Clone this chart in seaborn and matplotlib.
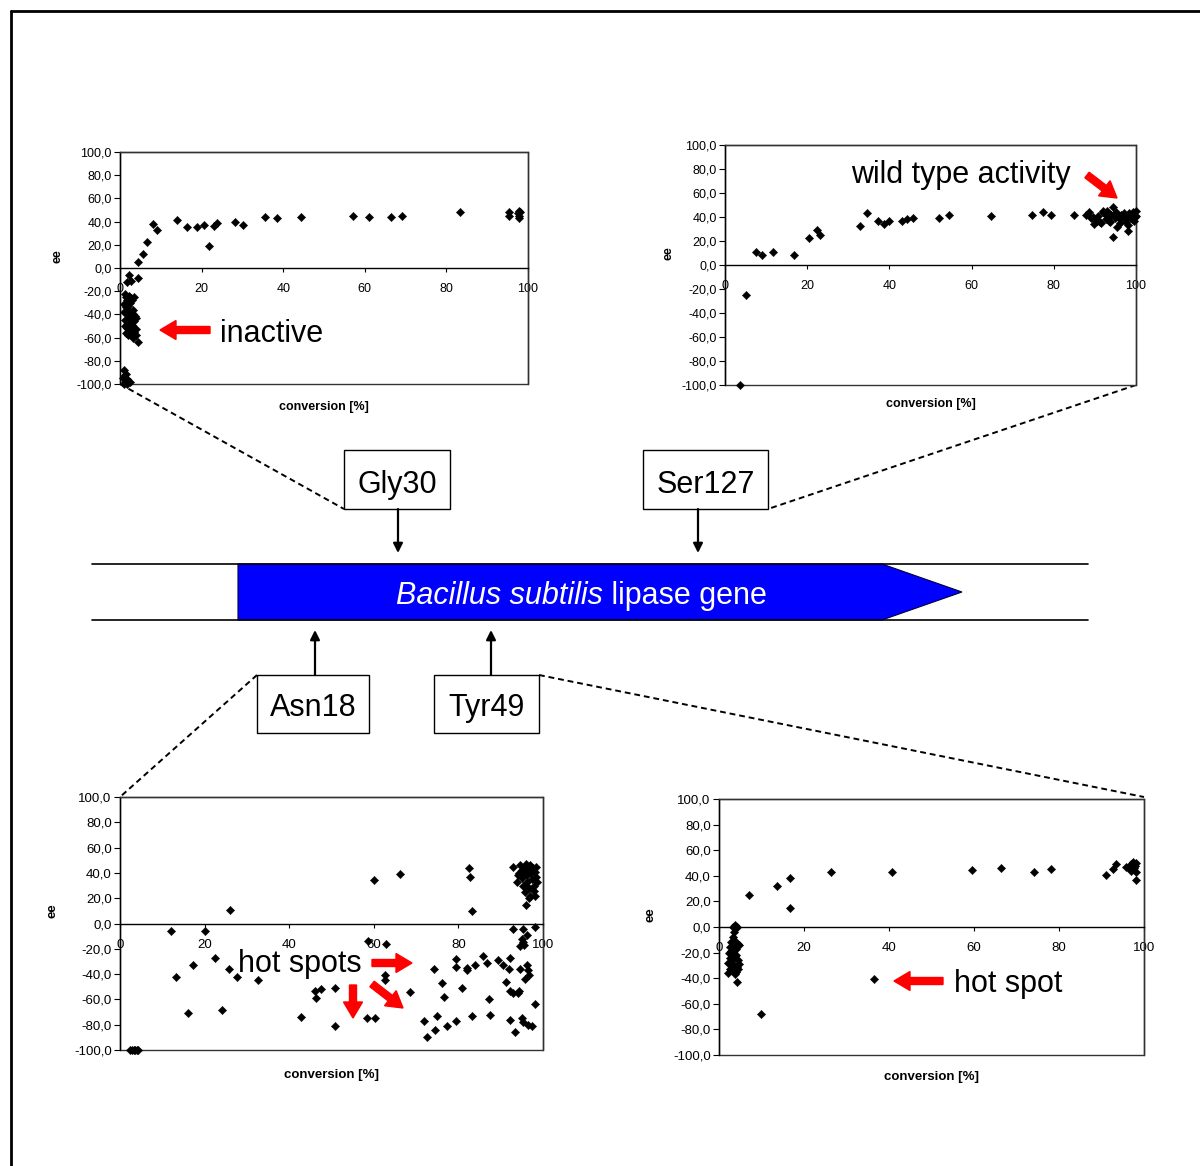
import matplotlib
matplotlib.use("Agg")
import matplotlib.pyplot as plt
import pandas as pd
import seaborn as sns
from matplotlib.patches import Rectangle, Polygon

# ---------------------------------------------------------------- data
# (conversion [%], ee) pairs for each mutant library
gly30_points = [
    (4.5, 5), (5.6, 12), (6.5, 22), (8.2, 38), (9.1, 33), (13.9, 41), (16.3, 35),
    (18.9, 35), (20.5, 37), (21.8, 19), (23.0, 36), (23.8, 39), (28.3, 40),
    (30.2, 37), (35.5, 44), (38.5, 43), (44.3, 44), (57.0, 45), (61.1, 44),
    (66.3, 44), (69.0, 45), (83.4, 48), (95.4, 48), (95.4, 45), (97.8, 49),
    (97.8, 45), (97.8, 43), (97.5, 47), (98.0, 48),
    (2.1, -6), (1.8, -12), (2.6, -11), (4.5, -9), (3.5, -25),
    (1.2, -22), (1.5, -25), (1.8, -28), (2.2, -24), (2.6, -26), (1.0, -31),
    (1.4, -34), (2.0, -33), (2.4, -30), (2.9, -28), (3.3, -36), (1.1, -38),
    (1.6, -40), (2.1, -37), (2.7, -42), (3.1, -40), (3.6, -41), (1.3, -45),
    (1.9, -47), (2.3, -44), (2.8, -48), (3.4, -46), (4.0, -43), (1.2, -50),
    (1.7, -52), (2.5, -53), (3.0, -49), (3.5, -55), (1.4, -56), (2.0, -58),
    (2.6, -57), (3.2, -60), (3.8, -58), (4.3, -64), (2.2, -55), (1.6, -48),
    (2.9, -51), (3.9, -53),
    (1.0, -88), (1.5, -91), (0.7, -95), (1.2, -98), (1.1, -100), (2.4, -98),
    (1.8, -96), (0.9, -93), (1.6, -100),
]

ser127_points = [
    (3.6, -100), (5.0, -25), (7.5, 10.6), (9.0, 8.7), (11.8, 10.6), (16.8, 8.7),
    (20.4, 22.6), (22.5, 29), (23.0, 25), (32.9, 32.4), (34.5, 43), (37.3, 37),
    (38.8, 34), (40.0, 37), (43.1, 37), (44.4, 38), (45.7, 39), (52.0, 39),
    (54.6, 42), (64.6, 41), (74.7, 42), (77.3, 44), (79.3, 42), (85.0, 42),
    (87.8, 42), (88.5, 44), (89.0, 39), (89.5, 40), (89.9, 34), (90.3, 37),
    (90.8, 41), (91.2, 36), (91.5, 35), (91.9, 44), (92.3, 43), (92.6, 38),
    (93.0, 45), (93.3, 40), (93.7, 36), (94.0, 42), (94.5, 48), (94.5, 23),
    (94.8, 39), (95.1, 44), (95.3, 32), (95.6, 41), (96.0, 38), (96.4, 42),
    (96.8, 42), (97.2, 40), (97.5, 36), (97.8, 39), (98.0, 33), (98.0, 28),
    (98.3, 43), (98.6, 41), (99.0, 38), (99.3, 44), (99.6, 37), (99.8, 40),
    (100.0, 45), (100.0, 41), (99.5, 42), (93.5, 37), (92.0, 45), (90.5, 37),
    (96.2, 35), (97.0, 43),
]

asn18_points = [
    (2.4, -100), (2.8, -100), (3.2, -100), (3.6, -100), (4.0, -100), (4.3, -100),
    (12.0, -5.8), (13.2, -42), (16.1, -71), (17.3, -33), (20.1, -5.8), (22.4, -27),
    (24.0, -68), (26.0, 10.3), (25.8, -36), (27.6, -42), (32.7, -45), (42.9, -74),
    (46.1, -53), (46.3, -59), (47.4, -52), (50.8, -51), (50.8, -81), (58.7, -14),
    (60.1, 34), (58.3, -75), (60.4, -75), (62.8, -16), (62.6, -41), (62.6, -45),
    (66.1, 39), (68.5, -54), (71.8, -77), (72.6, -90), (74.3, -36), (74.4, -84),
    (75.0, -73), (76.2, -47), (76.6, -58), (77.3, -81), (79.5, -77), (79.5, -28),
    (79.5, -34), (80.9, -51), (82.4, 44), (82.7, 37), (83.1, 10), (82.0, -35),
    (82.1, -37), (83.2, -73), (84.0, -33), (85.7, -26), (86.8, -31), (87.2, -60),
    (87.4, -72), (89.4, -29), (90.6, -33), (91.2, -46), (92.0, -36), (92.3, -27),
    (92.1, -53), (92.1, -76), (92.9, -4), (92.9, -55), (93.3, -86), (94.1, -55),
    (94.3, -53), (94.5, -18), (94.6, -36), (95.1, -75), (95.3, -78), (95.3, -4),
    (95.3, -15), (95.7, -44), (96.1, -9), (96.2, -33), (96.5, -37), (96.5, -80),
    (98.0, -3), (98.2, -64), (95.0, -12), (95.6, -17), (97.3, -81), (96.8, -41),
    (92.9, 45), (93.9, 33), (94.3, 40), (94.6, 46), (95.0, 42), (95.0, 36),
    (95.3, 30), (95.5, 44), (95.7, 25), (95.9, 15), (96.0, 47), (96.1, 38),
    (96.3, 33), (96.5, 43), (96.7, 28), (96.9, 22), (97.0, 46), (97.2, 40),
    (97.4, 35), (97.6, 44), (97.8, 30), (98.0, 41), (98.2, 22), (98.3, 37),
    (98.4, 45), (98.5, 33), (97.9, 26), (96.6, 20), (95.2, 41), (94.0, 38),
]

tyr49_points = [
    (7.0, 24.7), (13.6, 32), (16.6, 38), (16.8, 15), (26.3, 43), (40.8, 43),
    (59.6, 44.5), (66.3, 46), (74.1, 43), (78.1, 45), (36.5, -41), (9.8, -68),
    (3.4, 0), (4.3, 0.3), (3.7, 1.5), (4.0, -1), (3.2, -7.5), (3.5, -4),
    (2.8, -12), (3.6, -10), (4.4, -13), (2.5, -16), (3.1, -15), (3.9, -17),
    (4.6, -14), (2.3, -20), (2.9, -19), (3.4, -21), (4.1, -22), (2.6, -24),
    (3.2, -25), (3.8, -23), (4.5, -26), (2.2, -28), (2.9, -29), (3.5, -30),
    (4.2, -31), (4.8, -29), (2.6, -33), (3.3, -34), (4.0, -35), (2.2, -36),
    (3.7, -37), (4.5, -33), (4.3, -42.6),
    (91.1, 41), (92.7, 45), (93.3, 49.4), (95.8, 47), (96.6, 45), (97.4, 51),
    (97.8, 48), (98.2, 43), (98.0, 37), (97.0, 49), (97.6, 46), (98.1, 50),
    (96.9, 44),
]

x_ticks = [0, 20, 40, 60, 80, 100]
y_ticks = [-100, -80, -60, -40, -20, 0, 20, 40, 60, 80, 100]
y_tick_labels = ["-100,0", "-80,0", "-60,0", "-40,0", "-20,0", "0,0",
                 "20,0", "40,0", "60,0", "80,0", "100,0"]

# ---------------------------------------------------------------- style
sns.set_style("white")
plt.rcParams["font.family"] = ["Liberation Sans", "DejaVu Sans"]
plt.rcParams.update({"text.color": "black", "axes.labelcolor": "black",
                     "xtick.color": "black", "ytick.color": "black"})

W, H = 1200, 1166
fig = plt.figure(figsize=(W / 100, H / 100), dpi=100)

# pixel-space layer beneath the panels: frame, gene map, zoom lines
ov = fig.add_axes([0, 0, 1, 1])
ov.set_xlim(0, W)
ov.set_ylim(H, 0)
ov.axis("off")


def panel(points, box, fs, xlab_gap, ylab_gap):
    left, top, right, bottom = box
    ax = fig.add_axes([left / W, 1 - bottom / H, (right - left) / W, (bottom - top) / H])
    df = pd.DataFrame(points, columns=["conversion", "ee"])
    sns.scatterplot(data=df, x="conversion", y="ee", marker="D", color="black",
                    edgecolor="black", linewidth=0.3, s=18, ax=ax, legend=False,
                    clip_on=False, zorder=3)
    ax.set_xlim(0, 100)
    ax.set_ylim(-100, 100)
    ax.spines["bottom"].set_position(("data", 0))
    for side in ["left", "bottom"]:
        ax.spines[side].set_color("black")
        ax.spines[side].set_linewidth(1.0)
    for side in ["top", "right"]:
        ax.spines[side].set_color("#333333")
        ax.spines[side].set_linewidth(1.0)
    ax.add_patch(Rectangle((0, 0), 1, 1, transform=ax.transAxes, fill=False,
                           lw=1.0, ec="#333333", clip_on=False, zorder=1))
    ax.set_xticks(x_ticks)
    ax.set_xticklabels([str(t) for t in x_ticks])
    ax.set_yticks(y_ticks)
    ax.set_yticklabels(y_tick_labels)
    ax.tick_params(axis="y", direction="out", length=4, width=0.8,
                   labelsize=fs, pad=2, left=True, colors="black")
    ax.tick_params(axis="x", direction="out", length=3, width=0.8,
                   labelsize=fs, pad=8, bottom=True, colors="black")
    ax.set_xlabel("conversion [%]", fontsize=fs, fontweight="bold", color="black")
    ax.xaxis.set_label_coords(0.5, -xlab_gap / (bottom - top))
    ax.set_ylabel("ee", fontsize=fs, fontweight="bold", color="black")
    ax.yaxis.set_label_coords(-ylab_gap / (right - left), 0.55)
    ax.set_facecolor("white")
    return ax


panel(gly30_points, (120, 152, 528, 384), 9, 17, 56)
panel(ser127_points, (725, 145, 1136, 385), 9, 13, 51)
panel(asn18_points, (120, 797, 543, 1050), 9.5, 19, 61)
panel(tyr49_points, (719, 799, 1144, 1055), 9.5, 16, 62)

# ---------------------------------------------------------------- gene map
ov.plot([11, 11], [H, 11], color="black", lw=2)
ov.plot([11, W], [11, 11], color="black", lw=2)

ov.plot([92, 1088], [564, 564], color="black", lw=1.2)
ov.plot([92, 1088], [620, 620], color="black", lw=1.2)
ov.add_patch(Polygon([(238, 564), (882, 564), (962, 592), (882, 620), (238, 620)],
                     closed=True, fc="#0000ff", ec="#000040", lw=0.8))

big = 22
t1 = ov.text(396, 604, "Bacillus subtilis", color="white", fontsize=big,
             fontstyle="italic", ha="left", va="baseline")
ov.annotate(" lipase gene", xy=(1, 0), xycoords=t1, color="white", fontsize=big,
            ha="left", va="bottom")

boxes = [("Gly30", 344, 450, 450, 509, 493, 398, 509, 553),
         ("Ser127", 643, 450, 768, 509, 493, 698, 509, 553),
         ("Asn18", 257, 675, 369, 733, 716, 315, 675, 630),
         ("Tyr49", 434, 675, 539, 733, 716, 491, 675, 630)]
for label, x0, y0, x1, y1, base, ax_x, a_from, a_to in boxes:
    ov.add_patch(Rectangle((x0, y0), x1 - x0, y1 - y0, fc="white", ec="black", lw=1.0))
    ov.text((x0 + x1) / 2, base, label, fontsize=big, ha="center", va="baseline",
            color="black")
    ov.annotate("", xy=(ax_x, a_to), xytext=(ax_x, a_from),
                arrowprops=dict(arrowstyle="-|>", color="black", lw=1.6,
                                mutation_scale=14, shrinkA=0, shrinkB=0))

dash = dict(color="black", lw=1.4, linestyle=(0, (3, 2)))
ov.plot([120, 344], [384, 509], **dash)
ov.plot([1136, 768], [385, 509], **dash)
ov.plot([257, 120], [675, 797], **dash)
ov.plot([539, 1144], [675, 797], **dash)

# ---------------------------------------------------------------- call-outs on top of the panels
top = fig.add_axes([0, 0, 1, 1])
top.set_xlim(0, W)
top.set_ylim(H, 0)
top.axis("off")
top.patch.set_alpha(0)

red = dict(width=7, head_width=19, head_length=16, length_includes_head=True,
           fc="#ff0000", ec="#ff0000", zorder=5)
top.arrow(210, 330, -50, 0, **red)
top.arrow(1087, 175, 30, 23, **red)
top.arrow(372, 963, 40, 0, **red)
top.arrow(353, 985, 0, 33, **red)
top.arrow(372, 984, 31, 24, **red)
top.arrow(943, 981, -49, 0, **red)

top.text(220, 342, "inactive", fontsize=big, ha="left", va="baseline", color="black")
top.text(851, 183, "wild type activity", fontsize=big, ha="left", va="baseline", color="black")
top.text(238, 972, "hot spots", fontsize=big, ha="left", va="baseline", color="black")
top.text(954, 992, "hot spot", fontsize=big, ha="left", va="baseline", color="black")

fig.savefig("out.png", dpi=100)
